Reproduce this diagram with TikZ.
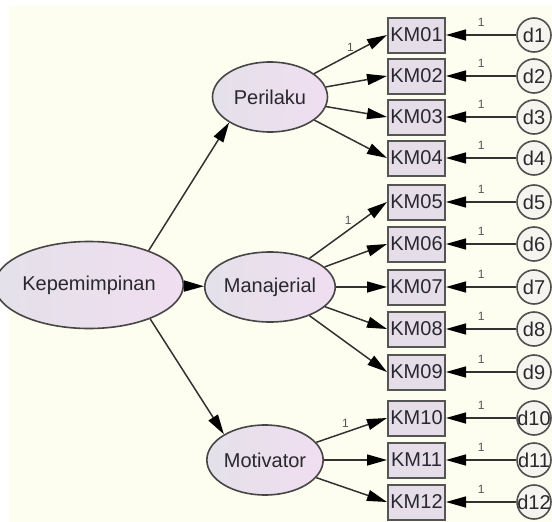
\documentclass[tikz,border=0pt]{standalone}
\usepackage{fontspec}
\setmainfont{Liberation Sans}
\usetikzlibrary{shapes.geometric,arrows.meta}

\tikzset{
  latent/.style={ellipse, draw={rgb,255:red,70;green,70;blue,70}, line width=1.6pt,
    left color={rgb,255:red,228;green,225;blue,233}, right color={rgb,255:red,240;green,222;blue,241},
    minimum width=115pt, minimum height=70pt, inner sep=0pt,
    font=\fontsize{20}{24}\selectfont, text={rgb,255:red,40;green,40;blue,45}},
  indicator/.style={rectangle, draw={rgb,255:red,85;green,85;blue,85}, line width=2pt,
    fill={rgb,255:red,229;green,222;blue,232}, minimum width=57pt, minimum height=35pt, inner sep=0pt,
    font=\fontsize{20}{24}\selectfont, text={rgb,255:red,40;green,40;blue,45}},
  errterm/.style={circle, draw={rgb,255:red,80;green,80;blue,80}, line width=1.6pt,
    fill={rgb,255:red,246;green,244;blue,238}, minimum size=34pt, inner sep=0pt,
    font=\fontsize{20}{24}\selectfont, text={rgb,255:red,40;green,40;blue,45}},
  pathline/.style={-{Triangle[length=20pt,width=11pt,color=black]}, line width=1.5pt, draw={rgb,255:red,50;green,50;blue,50}},
  lbl/.style={font=\fontsize{12}{13}\selectfont, inner sep=2pt, text={rgb,255:red,85;green,85;blue,85}}
}

\begin{document}
\begin{tikzpicture}[x=1pt,y=1pt,yscale=-1]
%Background
\useasboundingbox (0,0) rectangle (552,522);
\fill [white] (0,0) rectangle (552,522);
\fill [fill={rgb,255:red,254;green,254;blue,240}] (9,6) rectangle (552,522);

%Latent variables
\node [latent, minimum width=148pt, minimum height=87pt] (kep) at (89,285) {Kepemimpinan};
\node [latent] (per) at (270,97) {Perilaku};
\node [latent] (man) at (270,287) {Manajerial};
\node [latent] (mot) at (265,460) {Motivator};

%Indicators
\node [indicator] (km01) at (416.5,35) {KM01};
\node [indicator] (km02) at (416.5,76) {KM02};
\node [indicator] (km03) at (416.5,117) {KM03};
\node [indicator] (km04) at (416.5,158) {KM04};
\node [indicator] (km05) at (416.5,202) {KM05};
\node [indicator] (km06) at (416.5,244) {KM06};
\node [indicator] (km07) at (416.5,287) {KM07};
\node [indicator] (km08) at (416.5,329) {KM08};
\node [indicator] (km09) at (416.5,372) {KM09};
\node [indicator] (km10) at (416.5,418) {KM10};
\node [indicator] (km11) at (416.5,460) {KM11};
\node [indicator] (km12) at (416.5,502) {KM12};

%Error terms
\node [errterm] (d1) at (534,35) {\makebox[0pt]{d1}};
\node [errterm] (d2) at (534,76) {\makebox[0pt]{d2}};
\node [errterm] (d3) at (534,117) {\makebox[0pt]{d3}};
\node [errterm] (d4) at (534,158) {\makebox[0pt]{d4}};
\node [errterm] (d5) at (534,202) {\makebox[0pt]{d5}};
\node [errterm] (d6) at (534,244) {\makebox[0pt]{d6}};
\node [errterm] (d7) at (534,287) {\makebox[0pt]{d7}};
\node [errterm] (d8) at (534,329) {\makebox[0pt]{d8}};
\node [errterm] (d9) at (534,372) {\makebox[0pt]{d9}};
\node [errterm] (d10) at (534,418) {\makebox[0pt]{d10}};
\node [errterm] (d11) at (534,460) {\makebox[0pt]{d11}};
\node [errterm] (d12) at (534,502) {\makebox[0pt]{d12}};

%Structural paths
\draw [pathline] (kep.30) -- (per.212);
\draw [pathline] (kep) -- (man);
\draw [pathline] (kep.331) -- (mot.148);

%Loadings
\draw [pathline] (per) -- (km01.west) node [midway, above, lbl] {1};
\draw [pathline] (per) -- (km02.west);
\draw [pathline] (per) -- (km03.west);
\draw [pathline] (per) -- (km04.west);
\draw [pathline] (man) -- (km05.west) node [midway, above=3pt, lbl] {1};
\draw [pathline] (man) -- (km06.west);
\draw [pathline] (man) -- (km07.west);
\draw [pathline] (man) -- (km08.west);
\draw [pathline] (man) -- (km09.west);
\draw [pathline] (mot) -- (km10.west) node [midway, above left, lbl] {1};
\draw [pathline] (mot) -- (km11.west);
\draw [pathline] (mot) -- (km12.west);

%Error paths
\draw [pathline] (d1) -- (km01) node [midway, above=6pt, lbl] {1};
\draw [pathline] (d2) -- (km02) node [midway, above=6pt, lbl] {1};
\draw [pathline] (d3) -- (km03) node [midway, above=6pt, lbl] {1};
\draw [pathline] (d4) -- (km04) node [midway, above=6pt, lbl] {1};
\draw [pathline] (d5) -- (km05) node [midway, above=6pt, lbl] {1};
\draw [pathline] (d6) -- (km06) node [midway, above=6pt, lbl] {1};
\draw [pathline] (d7) -- (km07) node [midway, above=6pt, lbl] {1};
\draw [pathline] (d8) -- (km08) node [midway, above=6pt, lbl] {1};
\draw [pathline] (d9) -- (km09) node [midway, above=6pt, lbl] {1};
\draw [pathline] (d10) -- (km10) node [midway, above=6pt, lbl] {1};
\draw [pathline] (d11) -- (km11) node [midway, above=6pt, lbl] {1};
\draw [pathline] (d12) -- (km12) node [midway, above=6pt, lbl] {1};
\end{tikzpicture}
\end{document}
